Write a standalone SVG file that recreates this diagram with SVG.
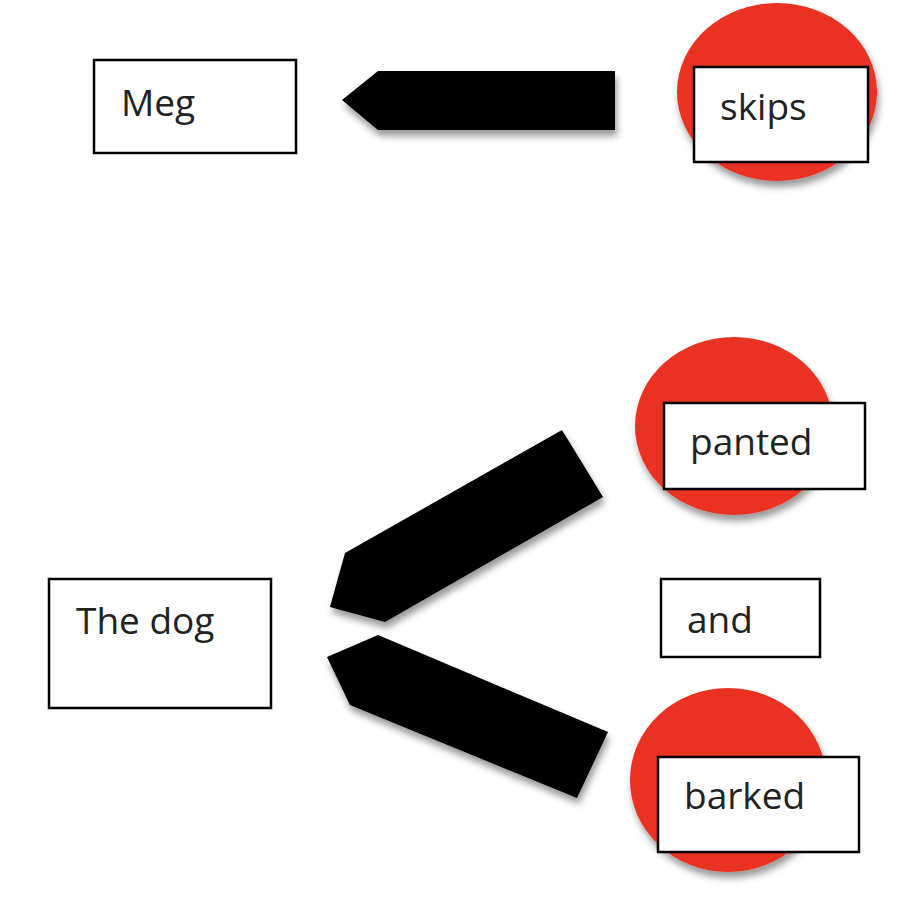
<svg xmlns="http://www.w3.org/2000/svg" width="902" height="898" viewBox="0 0 902 898">
<defs>
<filter id="sh" x="-20%" y="-20%" width="140%" height="150%">
<feDropShadow dx="2" dy="6" stdDeviation="3.5" flood-color="#000" flood-opacity="0.4"/>
</filter>
<style>
.box{fill:#fff;stroke:#000;stroke-width:2.5}
.dot{fill:#E93324;filter:url(#sh)}
.arr{fill:#000;filter:url(#sh)}
.lbl{font-family:"Open Sans","Noto Sans","Liberation Sans",sans-serif;font-size:37px;fill:#222}
</style>
</defs>
<rect width="902" height="898" fill="#fff"/>
<g id="connectors">
<polygon class="arr" points="342,100 378,71 615,71 615,130 378,130"/>
<polygon class="arr" points="330,607 345,553 562,430 603,497 385,622"/>
<polygon class="arr" points="327,657 378,635 608,732 577,798 350,705"/>
</g>
<g id="meg">
<rect class="box" x="94" y="60" width="202" height="93"/>
<text class="lbl" x="121" y="116">Meg</text>
</g>
<g id="skips">
<ellipse class="dot" cx="777" cy="92" rx="100" ry="89"/>
<rect class="box" x="694" y="67" width="174" height="95"/>
<text class="lbl" x="720" y="120">skips</text>
</g>
<g id="thedog">
<rect class="box" x="49" y="579" width="222" height="129"/>
<text class="lbl" x="76" y="634">The dog</text>
</g>
<g id="panted">
<ellipse class="dot" cx="734" cy="426" rx="99" ry="89"/>
<rect class="box" x="664" y="403" width="201" height="86"/>
<text class="lbl" x="690" y="455">panted</text>
</g>
<g id="and">
<rect class="box" x="661" y="579" width="159" height="78"/>
<text class="lbl" x="687" y="633">and</text>
</g>
<g id="barked">
<ellipse class="dot" cx="728" cy="780" rx="98" ry="92"/>
<rect class="box" x="658" y="757" width="201" height="95"/>
<text class="lbl" x="684" y="809">barked</text>
</g>
</svg>
